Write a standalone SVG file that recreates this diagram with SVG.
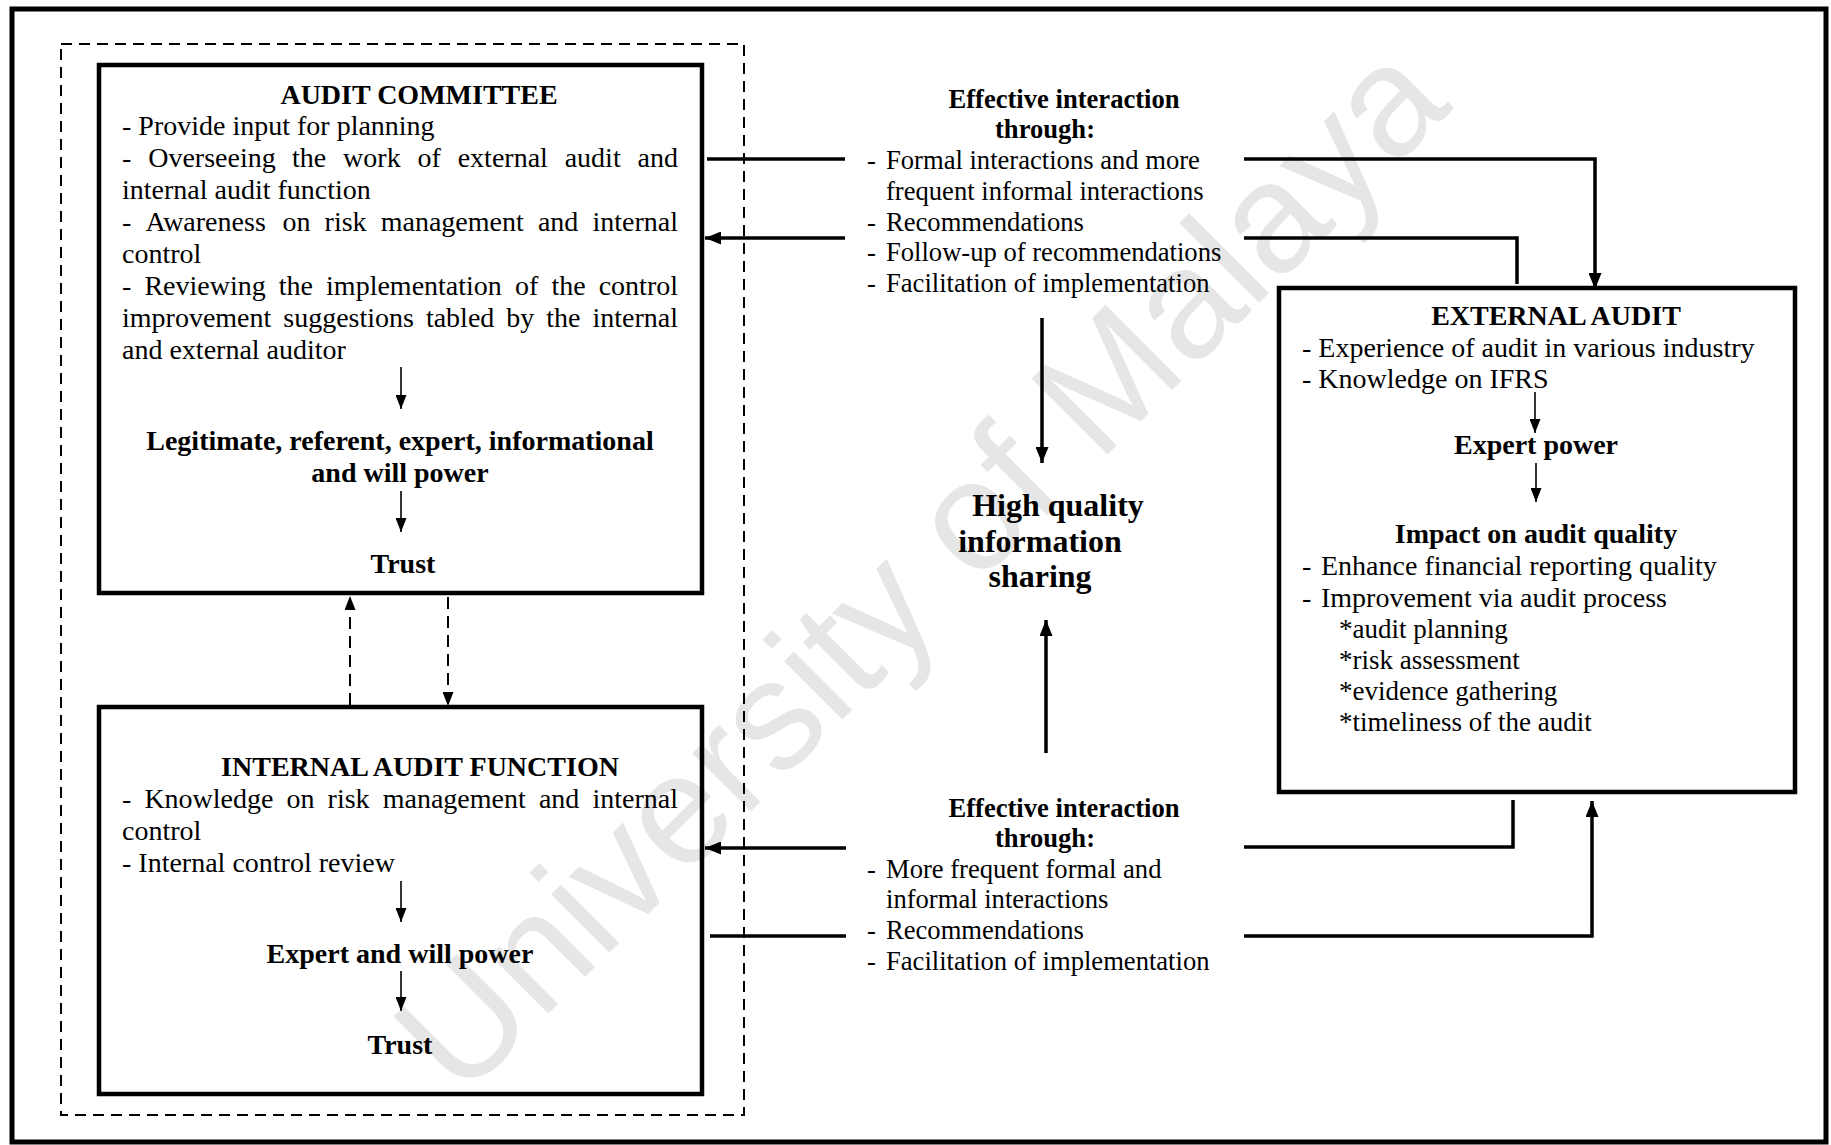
<svg xmlns="http://www.w3.org/2000/svg" width="1831" height="1145" viewBox="0 0 1831 1145">
  <style>
    text { font-family: "Liberation Serif", "Times New Roman", serif; fill: #000; }
    .t { font-size: 28px; }
    .tb { font-size: 28px; font-weight: bold; }
    .m { font-size: 26.6px; }
    .mb { font-size: 26.6px; font-weight: bold; }
    .hq { font-size: 32px; font-weight: bold; }
    .star { font-size: 27px; }
    .mid { text-anchor: middle; }
    .box { fill: none; stroke: #000; stroke-width: 4.5; }
    .frame { fill: none; stroke: #000; stroke-width: 5; }
    .group { fill: none; stroke: #000; stroke-width: 2; stroke-dasharray: 11 7; }
    .conn { fill: none; stroke: #000; stroke-width: 3.5; }
    .inner { fill: none; stroke: #000; stroke-width: 1.6; }
    .dash { fill: none; stroke: #000; stroke-width: 2; stroke-dasharray: 12 7; }
    .wm { font-family: "Liberation Sans", Arial, sans-serif; font-size: 156px; fill: #e6e6e6; }
  </style>
  <defs>
    <marker id="head" markerUnits="userSpaceOnUse" markerWidth="16" markerHeight="13" refX="16" refY="6.5" orient="auto">
      <path d="M0,0 L16,6.5 L0,13 Z" fill="#000"/>
    </marker>
    <marker id="headSmall" markerUnits="userSpaceOnUse" markerWidth="14" markerHeight="11" refX="14" refY="5.5" orient="auto">
      <path d="M0,0 L14,5.5 L0,11 Z" fill="#000"/>
    </marker>
  </defs>

  <rect width="1831" height="1145" fill="#fff"/>

  <!-- watermark -->
  <text class="wm" x="461" y="1101" transform="rotate(-45 461 1101)">University of Malaya</text>

  <!-- outer frame and dashed grouping of the two internal parties -->
  <rect class="frame" x="12" y="9" width="1814" height="1133"/>
  <rect class="group" x="61" y="44" width="683" height="1071"/>

  <g id="audit-committee">
    <rect class="box" x="99" y="65" width="603" height="528"/>
    <text class="tb mid" x="419" y="104">AUDIT COMMITTEE</text>
    <text class="t" x="122" y="135">- Provide input for planning</text>
    <text class="t" y="167"><tspan x="122">-</tspan><tspan x="148.2">Overseeing</tspan><tspan x="292">the</tspan><tspan x="343.1">work</tspan><tspan x="417.5">of</tspan><tspan x="457.7">external</tspan><tspan x="564.7">audit</tspan><tspan x="637.6">and</tspan></text>
    <text class="t" x="122" y="199">internal audit function</text>
    <text class="t" y="231"><tspan x="122">-</tspan><tspan x="145.5">Awareness</tspan><tspan x="282.4">on</tspan><tspan x="324.6">risk</tspan><tspan x="380.7">management</tspan><tspan x="537.9">and</tspan><tspan x="592.5">internal</tspan></text>
    <text class="t" x="122" y="263">control</text>
    <text class="t" y="295"><tspan x="122">-</tspan><tspan x="144.4">Reviewing</tspan><tspan x="278.8">the</tspan><tspan x="326.1">implementation</tspan><tspan x="515">of</tspan><tspan x="551.4">the</tspan><tspan x="598.7">control</tspan></text>
    <text class="t" y="327"><tspan x="122">improvement</tspan><tspan x="283.3">suggestions</tspan><tspan x="425.9">tabled</tspan><tspan x="506.3">by</tspan><tspan x="546.3">the</tspan><tspan x="592.5">internal</tspan></text>
    <text class="t" x="122" y="359">and external auditor</text>
    <path class="inner" d="M401,367 V409" marker-end="url(#headSmall)"/>
    <text class="tb mid" x="400" y="450">Legitimate, referent, expert, informational</text>
    <text class="tb mid" x="400" y="482">and will power</text>
    <path class="inner" d="M401,491 V532" marker-end="url(#headSmall)"/>
    <text class="tb mid" x="403" y="573">Trust</text>
  </g>

  <g id="internal-audit-function">
    <rect class="box" x="99" y="707" width="603" height="387"/>
    <text class="tb mid" x="420" y="776">INTERNAL AUDIT FUNCTION</text>
    <text class="t" y="808"><tspan x="122">-</tspan><tspan x="144.4">Knowledge</tspan><tspan x="286.6">on</tspan><tspan x="327.6">risk</tspan><tspan x="382.7">management</tspan><tspan x="538.9">and</tspan><tspan x="592.4">internal</tspan></text>
    <text class="t" x="122" y="840">control</text>
    <text class="t" x="122" y="872">- Internal control review</text>
    <path class="inner" d="M401,881 V922" marker-end="url(#headSmall)"/>
    <text class="tb mid" x="400" y="963">Expert and will power</text>
    <path class="inner" d="M401,971 V1011" marker-end="url(#headSmall)"/>
    <text class="tb mid" x="400" y="1054">Trust</text>
  </g>

  <g id="external-audit">
    <rect class="box" x="1279" y="288" width="516" height="504"/>
    <text class="tb mid" x="1556" y="325">EXTERNAL AUDIT</text>
    <text class="t" x="1302" y="357">- Experience of audit in various industry</text>
    <text class="t" x="1302" y="388">- Knowledge on IFRS</text>
    <path class="inner" d="M1535,392 V433" marker-end="url(#headSmall)"/>
    <text class="tb mid" x="1536" y="454">Expert power</text>
    <path class="inner" d="M1536,463 V502" marker-end="url(#headSmall)"/>
    <text class="tb mid" x="1536" y="543">Impact on audit quality</text>
    <text class="t" y="575"><tspan x="1302">-</tspan><tspan x="1321">Enhance financial reporting quality</tspan></text>
    <text class="t" y="607"><tspan x="1302">-</tspan><tspan x="1321">Improvement via audit process</tspan></text>
    <text class="star" x="1339" y="638">*audit planning</text>
    <text class="star" x="1339" y="669">*risk assessment</text>
    <text class="star" x="1339" y="700">*evidence gathering</text>
    <text class="star" x="1339" y="731">*timeliness of the audit</text>
  </g>

  <g id="interaction-committee">
    <text class="mb mid" x="1064" y="108">Effective interaction</text>
    <text class="mb mid" x="1045" y="138">through:</text>
    <text class="m" y="169"><tspan x="867">-</tspan><tspan x="886">Formal interactions and more</tspan></text>
    <text class="m" x="886" y="200">frequent informal interactions</text>
    <text class="m" y="231"><tspan x="867">-</tspan><tspan x="886">Recommendations</tspan></text>
    <text class="m" y="261"><tspan x="867">-</tspan><tspan x="886">Follow-up of recommendations</tspan></text>
    <text class="m" y="292"><tspan x="867">-</tspan><tspan x="886">Facilitation of implementation</tspan></text>
  </g>

  <g id="information-sharing">
    <text class="hq mid" x="1058" y="516">High quality</text>
    <text class="hq mid" x="1040" y="552">information</text>
    <text class="hq mid" x="1040" y="587">sharing</text>
  </g>

  <g id="interaction-internal-audit">
    <text class="mb mid" x="1064" y="817">Effective interaction</text>
    <text class="mb mid" x="1045" y="847">through:</text>
    <text class="m" y="878"><tspan x="867">-</tspan><tspan x="886">More frequent formal and</tspan></text>
    <text class="m" x="886" y="908">informal interactions</text>
    <text class="m" y="939"><tspan x="867">-</tspan><tspan x="886">Recommendations</tspan></text>
    <text class="m" y="970"><tspan x="867">-</tspan><tspan x="886">Facilitation of implementation</tspan></text>
  </g>

  <g id="connectors">
    <!-- audit committee <-> external audit -->
    <path class="conn" d="M707,159 H845"/>
    <path class="conn" d="M1244,159 H1595 V289" marker-end="url(#head)"/>
    <path class="conn" d="M1517,284 V238 H1244"/>
    <path class="conn" d="M845,238 H705" marker-end="url(#head)"/>
    <!-- internal audit function <-> external audit -->
    <path class="conn" d="M1513,800 V847 H1244"/>
    <path class="conn" d="M846,848 H705" marker-end="url(#head)"/>
    <path class="conn" d="M710,936 H846"/>
    <path class="conn" d="M1244,936 H1592 V801" marker-end="url(#head)"/>
    <!-- both interactions feed information sharing -->
    <path class="conn" d="M1042,318 V463" marker-end="url(#head)"/>
    <path class="conn" d="M1046,753 V620" marker-end="url(#head)"/>
    <!-- trust between the audit committee and internal audit -->
    <path class="dash" d="M350,705 V596" marker-end="url(#headSmall)"/>
    <path class="dash" d="M448,597 V706" marker-end="url(#headSmall)"/>
  </g>
</svg>
